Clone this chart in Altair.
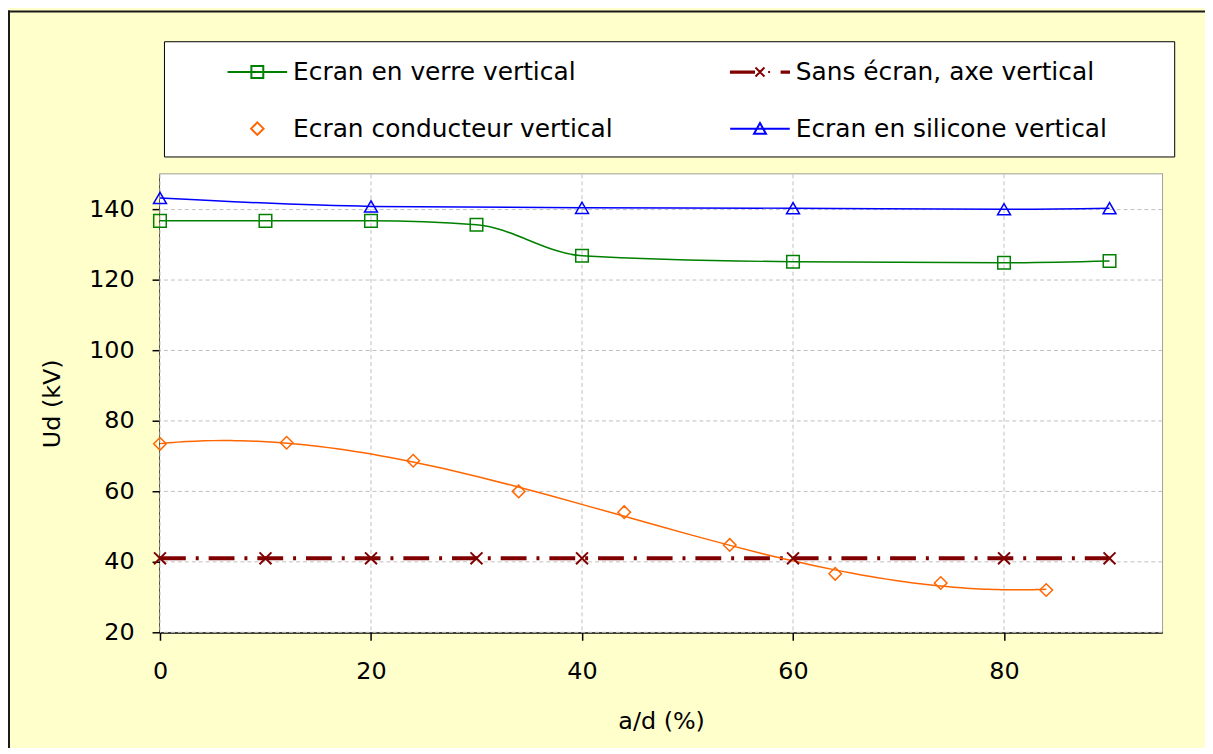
import altair as alt
import pandas as pd

# ---- data ----
# legend order (columns are filled top to bottom)
series_names = [
    "Ecran en verre vertical",
    "Ecran conducteur vertical",
    "Sans écran, axe vertical",
    "Ecran en silicone vertical",
]
series_colors = ["#008000", "#FF6600", "#800000", "#0000FF"]

x_verre = [0, 10, 20, 30, 40, 60, 80, 90]
y_verre = [136.8, 136.8, 136.8, 135.7, 126.9, 125.2, 124.9, 125.4]

x_sans = [0, 10, 20, 30, 40, 60, 80, 90]
y_sans = [41, 41, 41, 41, 41, 41, 41, 41]

x_cond = [0, 12, 24, 34, 44, 54, 64, 74, 84]
y_cond = [73.5, 73.8, 68.7, 60.0, 54.1, 44.8, 36.6, 34.0, 32.0]

x_sil = [0, 20, 40, 60, 80, 90]
y_sil = [143.3, 140.9, 140.5, 140.4, 140.1, 140.4]

x_domain = [0, 95]
y_domain = [20, 150]
x_ticks = [0, 20, 40, 60, 80]
y_ticks = [20, 40, 60, 80, 100, 120, 140]

# legend symbols (line + marker), in unit coordinates
legend_paths = [
    "M-2,0H2M-0.4,-0.4H0.4V0.4H-0.4Z",
    "M0,-0.42L0.42,0L0,0.42L-0.42,0Z",
    "M-1.95,-0.04H-0.4V0.04H-1.95ZM-0.3,-0.3L0.3,0.3M-0.3,0.3L0.3,-0.3"
    "M0.55,0H0.68M1.45,-0.04H1.95V0.04H1.45Z",
    "M-2,0H2M0,-0.38L0.4,0.34H-0.4Z",
]

GREEN, ORANGE, RED, BLUE = series_colors
GRID = "#C0C0C0"

df_verre = pd.DataFrame({"x": x_verre, "y": y_verre})
df_sans = pd.DataFrame({"x": x_sans, "y": y_sans})
df_cond = pd.DataFrame({"x": x_cond, "y": y_cond})
df_sil = pd.DataFrame({"x": x_sil, "y": y_sil})
df_legend = pd.DataFrame({"series": series_names})
df_area = pd.DataFrame({"x": [x_domain[0]], "x1": [x_domain[1]],
                        "y": [y_domain[0]], "y1": [y_domain[1]]})
df_xgrid = pd.DataFrame({"x": x_ticks})
df_ygrid = pd.DataFrame({"y": y_ticks})

X = alt.X("x:Q", scale=alt.Scale(domain=x_domain, nice=False, zero=False),
          axis=alt.Axis(values=x_ticks, title="a/d (%)", labelFlush=False))
Y = alt.Y("y:Q", scale=alt.Scale(domain=y_domain, nice=False, zero=False),
          axis=alt.Axis(values=y_ticks, title="Ud (kV)", labelFlush=False))

# white plot area and dashed grid drawn at the tick values
plot_bg = alt.Chart(df_area).mark_rect(color="white", opacity=1).encode(
    X, Y, x2="x1:Q", y2="y1:Q")
x_grid = alt.Chart(df_xgrid).mark_rule(
    color=GRID, strokeWidth=1, strokeDash=[4, 3]).encode(X)
y_grid = alt.Chart(df_ygrid).mark_rule(
    color=GRID, strokeWidth=1, strokeDash=[4, 3]).encode(Y)

verre_line = alt.Chart(df_verre).mark_line(
    color=GREEN, strokeWidth=1.5, interpolate="monotone").encode(X, Y)
verre_pts = alt.Chart(df_verre).mark_point(
    shape="square", size=160, color=GREEN, strokeWidth=1.5, filled=False, opacity=1).encode(X, Y)

sans_line = alt.Chart(df_sans).mark_line(
    color=RED, strokeWidth=4, strokeDash=[26, 10, 3, 10], strokeCap="butt").encode(X, Y)
sans_pts = alt.Chart(df_sans).mark_point(
    shape="M-1,-1L1,1M-1,1L1,-1", size=144, color=RED, strokeWidth=2,
    filled=False, opacity=1).encode(X, Y)

cond_fit = alt.Chart(df_cond).transform_regression(
    "x", "y", method="poly", order=3).mark_line(
    color=ORANGE, strokeWidth=1.5).encode(X, Y)
cond_pts = alt.Chart(df_cond).mark_point(
    shape="diamond", size=160, color=ORANGE, strokeWidth=1.5, filled=False, opacity=1).encode(X, Y)

sil_line = alt.Chart(df_sil).mark_line(
    color=BLUE, strokeWidth=1.5, interpolate="monotone").encode(X, Y)
sil_pts = alt.Chart(df_sil).mark_point(
    shape="triangle-up", size=170, color=BLUE, strokeWidth=1.5, filled=False, opacity=1).encode(X, Y)

PAD = "\u00a0\u00a0\u2800\u2800"
LEG = alt.Legend(
    orient="none", legendX=4, legendY=-134, columns=2,
    title="\u00a0", titleOrient="left", titleFontSize=2, titlePadding=63,
    padding=15, fillColor="white", strokeColor="black",
    labelFont="DejaVu Sans", labelFontSize=25, labelColor="black",
    labelOffset=20, labelLimit=900, labelExpr=f"datum.label + '{PAD}'",
    symbolSize=900, symbolStrokeWidth=2, symbolOpacity=1,
    columnPadding=61, rowPadding=28,
)

legend_layer = alt.Chart(df_legend).transform_filter("false").mark_point(
    filled=False, size=900, strokeWidth=2, opacity=1).encode(
    color=alt.Color("series:N", scale=alt.Scale(domain=series_names, range=series_colors), legend=LEG),
    shape=alt.Shape("series:N", scale=alt.Scale(domain=series_names, range=legend_paths), legend=LEG),
)

# outer frame of the figure (left and top edges)
frame_df = pd.DataFrame({"k": [0]})
left_border = alt.Chart(frame_df).mark_rule(color="#1a1a1a", strokeWidth=2).encode(
    x=alt.value(-152), y=alt.value(-165), y2=alt.value(580))
top_border = alt.Chart(frame_df).mark_rule(color="#1a1a1a", strokeWidth=2).encode(
    x=alt.value(-153), x2=alt.value(1052), y=alt.value(-164))

chart = alt.layer(
    plot_bg, x_grid, y_grid,
    sans_line, cond_fit, verre_line, sil_line,
    sans_pts, cond_pts, verre_pts, sil_pts,
    legend_layer, left_border, top_border,
).properties(
    width=1009, height=461,
    autosize=alt.AutoSizeParams(type="none"),
    padding={"left": 153, "top": 165, "right": 43, "bottom": 114},
    background="#FFFFCC",
).configure_axis(
    labelFont="DejaVu Sans", labelFontSize=24, labelColor="black",
    titleFont="DejaVu Sans", titleFontSize=24, titleFontWeight="normal", titleColor="black",
    domainColor="black", domainWidth=2, tickColor="black", tickWidth=1.5, tickSize=8,
    grid=False, zindex=1,
).configure_axisX(
    labelPadding=20, titlePadding=26,
).configure_axisY(
    labelPadding=18, titlePadding=24,
).configure_view(
    stroke="#808080", strokeWidth=1.5,
)

chart.save("out.html", embed_options={"renderer": "svg", "actions": False})
